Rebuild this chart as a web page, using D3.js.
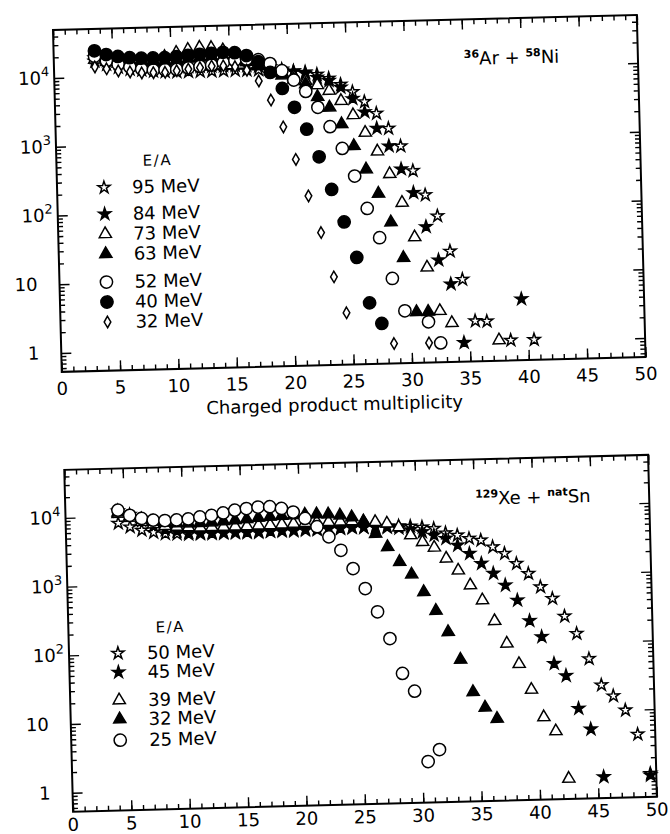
<!DOCTYPE html>
<html>
<head>
<meta charset="utf-8">
<script src="https://cdn.jsdelivr.net/npm/d3@7"></script>
<style>
  body { margin: 0; background: #fff; }
  text { font-family: "DejaVu Sans", sans-serif; fill: #000; }
</style>
</head>
<body>
<div id="chart-area"></div>
<script>
// Charged product multiplicity distributions, two reactions

// ---- data: [multiplicity, counts] ----
// 36Ar + 58Ni
let ar95 = [[3.5,17000],[4.5,15000],[5.5,13500],[6.5,12500],[7.5,12000],[8.5,11500],[9.5,11200],[10.5,11000],[11.5,11000],[12.5,11000],[13.5,11000],[14.5,11000],[15.5,11000],[16.5,11000],[17.5,11000],[18.5,10800],[19.5,10500],[20.5,10200],[21.5,9800],[22.5,9000],[23.5,7800],[24.5,6300],[25.5,4870],[26.5,3460],[27.5,2320],[28.5,1390],[29.5,760],[30.5,330],[31.5,145],[32.5,71],[33.5,21.6],[34.5,8.3],[35.5,2.05],[36.5,2.0],[38.5,1.04],[40.5,1.04]];
let ar84 = [[3.5,19000],[4.5,17000],[5.5,15500],[6.5,14500],[7.5,14000],[8.5,13500],[9.5,13000],[10.5,13000],[11.5,13000],[12.5,13000],[13.5,13000],[14.5,13000],[15.5,13000],[16.5,12800],[17.5,12500],[18.5,12000],[19.5,11000],[20.5,10200],[21.5,9400],[22.5,8150],[23.5,7240],[24.5,5720],[25.5,3870],[26.5,2460],[27.5,1410],[28.5,770],[29.5,352],[30.5,158],[31.5,50],[32.5,16.2],[33.5,7.2],[34.5,1.0],[39.5,4.1]];
let ar73 = [[3.5,18000],[4.5,16500],[5.5,15500],[6.5,15000],[7.5,15500],[8.5,16500],[9.5,18500],[10.5,21000],[11.5,23000],[12.5,24500],[13.5,24000],[14.5,22000],[15.5,19000],[16.5,16000],[17.5,13500],[18.5,11500],[19.5,9800],[20.5,8500],[21.5,7300],[22.5,6300],[23.5,5160],[24.5,3640],[25.5,2240],[26.5,1230],[27.5,650],[28.5,302],[29.5,114],[30.5,35.6],[31.5,12.8],[32.5,2.95],[33.5,1.95],[37.5,1.05]];
let ar63 = [[3.5,21000],[4.5,19000],[5.5,17500],[6.5,16500],[7.5,16000],[8.5,16000],[9.5,16000],[10.5,16500],[11.5,17000],[12.5,17500],[13.5,18000],[14.5,17500],[15.5,16500],[16.5,14500],[17.5,12500],[18.5,10500],[19.5,9000],[20.5,7800],[21.5,6600],[22.5,4250],[23.5,2950],[24.5,1670],[25.5,795],[26.5,360],[27.5,158],[28.5,60],[29.5,18],[30.5,2.9],[31.5,2.9]];
let ar52 = [[3.5,20000],[4.5,17000],[5.5,15000],[6.5,13500],[7.5,12500],[8.5,12000],[9.5,12000],[10.5,12000],[11.5,12500],[12.5,13000],[13.5,13500],[14.5,14500],[15.5,15500],[16.5,16000],[17.5,15500],[18.5,13500],[19.5,10500],[20.5,7600],[21.5,5150],[22.5,2990],[23.5,1550],[24.5,740],[25.5,290],[26.5,97],[27.5,36],[28.5,9.1],[29.5,3.05],[31.5,2.07],[32.5,1.01]];
let ar40 = [[3.5,24000],[4.5,21000],[5.5,19500],[6.5,18500],[7.5,18000],[8.5,18000],[9.5,18000],[10.5,18500],[11.5,19000],[12.5,19500],[13.5,20000],[14.5,20500],[15.5,20000],[16.5,18000],[17.5,14500],[18.5,10000],[19.5,5800],[20.5,3050],[21.5,1450],[22.5,570],[23.5,189],[24.5,63],[25.5,19],[26.5,4.1],[27.5,2.04]];
let ar32 = [[3.5,14000],[4.5,13000],[5.5,12000],[6.5,11500],[7.5,11000],[8.5,11000],[9.5,11000],[10.5,11500],[11.5,12000],[12.5,12500],[13.5,13000],[14.5,13000],[15.5,12500],[16.5,11000],[17.5,7600],[18.5,3970],[19.5,1600],[20.5,533],[21.5,155],[22.5,45],[23.5,10.1],[24.5,3.0],[28.5,1.03],[31.5,1.02]];

// 129Xe + natSn
let xe50 = [[4.5,8000],[5.5,7000],[6.5,6200],[7.5,5700],[8.5,5400],[9.5,5300],[10.5,5200],[11.5,5200],[12.5,5200],[13.5,5200],[14.5,5200],[15.5,5200],[16.5,5200],[17.5,5300],[18.5,5300],[19.5,5300],[20.5,5400],[21.5,5400],[22.5,5500],[23.5,5500],[24.5,5600],[25.5,5600],[26.5,5700],[27.5,5700],[28.5,5700],[29.5,5600],[30.5,5400],[31.5,5090],[32.5,4360],[33.5,4000],[34.5,3540],[35.5,3310],[36.5,2620],[37.5,2080],[38.5,1470],[39.5,1040],[40.5,660],[41.5,442],[42.5,242],[43.5,134],[44.5,57],[45.5,23.4],[46.5,16.1],[47.5,9.9],[48.5,4.36],[49.5,1.16]];
let xe45 = [[4.5,12000],[5.5,10500],[6.5,8500],[7.5,7000],[8.5,6200],[9.5,5800],[10.5,5500],[11.5,5400],[12.5,5400],[13.5,5400],[14.5,5400],[15.5,5400],[16.5,5400],[17.5,5400],[18.5,5500],[19.5,5500],[20.5,5600],[21.5,5600],[22.5,5700],[23.5,5700],[24.5,5700],[25.5,5600],[26.5,5600],[27.5,5500],[28.5,5300],[29.5,5000],[30.5,4600],[31.5,4080],[32.5,3610],[33.5,2860],[34.5,2140],[35.5,1520],[36.5,1080],[37.5,720],[38.5,430],[39.5,214],[40.5,124],[41.5,50],[42.5,33],[43.5,10.9],[44.5,5.4],[45.5,1.08],[49.5,1.1]];
let xe39 = [[4.5,11000],[5.5,9500],[6.5,8200],[7.5,7500],[8.5,7000],[9.5,6800],[10.5,6600],[11.5,6500],[12.5,6500],[13.5,6500],[14.5,6500],[15.5,6500],[16.5,6600],[17.5,6600],[18.5,6700],[19.5,6800],[20.5,6900],[21.5,7000],[22.5,7000],[23.5,7000],[24.5,7000],[25.5,6900],[26.5,6700],[27.5,6300],[28.5,5500],[29.5,4170],[30.5,3290],[31.5,2700],[32.5,1850],[33.5,1230],[34.5,740],[35.5,444],[36.5,219],[37.5,102],[38.5,51],[39.5,21.3],[40.5,8.4],[41.5,5.2],[42.5,1.05]];
let xe32 = [[4.5,11500],[5.5,10000],[6.5,9000],[7.5,8200],[8.5,7800],[9.5,7600],[10.5,7500],[11.5,7500],[12.5,7600],[13.5,7800],[14.5,8000],[15.5,8200],[16.5,8500],[17.5,8700],[18.5,8900],[19.5,9000],[20.5,9100],[21.5,9100],[22.5,9000],[23.5,8600],[24.5,8000],[25.5,6800],[26.5,4500],[27.5,2860],[28.5,1720],[29.5,1120],[30.5,615],[31.5,325],[32.5,158],[33.5,62],[34.5,20.7],[35.5,12.2],[36.5,8.3]];
let xe25 = [[4.5,12400],[5.5,10300],[6.5,9200],[7.5,8600],[8.5,8400],[9.5,8500],[10.5,8700],[11.5,9200],[12.5,9600],[13.5,10300],[14.5,11200],[15.5,11700],[16.5,12200],[17.5,12200],[18.5,11400],[19.5,10000],[20.5,8000],[21.5,6000],[22.5,4230],[23.5,2670],[24.5,1430],[25.5,726],[26.5,330],[27.5,133],[28.5,41],[29.5,22.4],[30.5,2.1],[31.5,3.1]];

// labels / ticks
let arLabels = ["95 MeV", "84 MeV", "73 MeV", "63 MeV", "52 MeV", "40 MeV", "32 MeV"];
let xeLabels = ["50 MeV", "45 MeV", "39 MeV", "32 MeV", "25 MeV"];
let xTicks = [0, 5, 10, 15, 20, 25, 30, 35, 40, 45, 50];
let yDecades = [1, 10, 100, 1000, 10000];
let arTitle = [["36", true], ["Ar + ", false], ["58", true], ["Ni", false]];
let xeTitle = [["129", true], ["Xe + ", false], ["nat", true], ["Sn", false]];
let xLabel = "Charged product multiplicity";

// ---- layout ----
let W = 670, H = 834;
let pw = 584, ph = 342;             // panel size
let px = 53, py1 = 30, py2 = 470;   // panel origins
let tilt = -1.47;                   // the scanned page is a bit rotated

let svg = d3.select("#chart-area")
    .append("svg")
    .attr("width", W)
    .attr("height", H);

svg.append("rect").attr("width", W).attr("height", H).attr("fill", "#fff");

let root = svg.append("g")
    .attr("transform", "rotate(" + tilt + "," + px + "," + py1 + ")");

let x = d3.scaleLinear().domain([0, 50]).range([0, pw]);
let y = d3.scaleLog().domain([0.53, 50000]).range([ph, 0]);

// minor log ticks
let yMinor = [];
[0.1, 1, 10, 100, 1000, 10000].forEach(function(d) {
  d3.range(2, 10).forEach(function(k) {
    let v = k * d;
    if (v > 0.55 && v < 48000) yMinor.push(v);
  });
});

let shapes = {
  star: [d3.symbolStar, 46],
  triangle: [d3.symbolTriangle, 64],
  circle: [d3.symbolCircle, 118],
  diamond: [d3.symbolDiamond, 38]
};

function marker(sel, shape, filled) {
  sel.attr("d", d3.symbol().type(shapes[shape][0]).size(shapes[shape][1]))
     .attr("fill", filled ? "#000" : "#fff")
     .attr("stroke", "#000")
     .attr("stroke-width", 1.5);
}

function drawPanel(top, series, title, legend, labelY) {
  let g = root.append("g").attr("transform", "translate(" + px + "," + top + ")");

  // axes, ticks pointing inward
  function axis(gen, tr, vals, size) {
    let a = g.append("g")
      .attr("transform", tr)
      .call(gen.tickValues(vals).tickSize(size).tickSizeOuter(0).tickFormat(""));
    a.select(".domain").remove();
    a.selectAll("line").attr("stroke", "#000").attr("stroke-width", 1.4);
    return a;
  }
  let xMinor = d3.range(0, 51);
  axis(d3.axisBottom(x), "translate(0," + ph + ")", xMinor, -5);
  axis(d3.axisBottom(x), "translate(0," + ph + ")", xTicks, -10);
  axis(d3.axisTop(x), "translate(0,0)", xMinor, -5);
  axis(d3.axisTop(x), "translate(0,0)", xTicks, -10);
  axis(d3.axisLeft(y), "translate(0,0)", yMinor, -5);
  axis(d3.axisLeft(y), "translate(0,0)", yDecades, -10);
  axis(d3.axisRight(y), "translate(" + pw + ",0)", yMinor, -5);
  axis(d3.axisRight(y), "translate(" + pw + ",0)", yDecades, -10);

  g.append("rect")
    .attr("width", pw).attr("height", ph)
    .attr("fill", "none").attr("stroke", "#000").attr("stroke-width", 2);

  // x tick labels
  g.selectAll(".xlab").data(xTicks).enter()
    .append("text")
      .attr("class", "xlab")
      .attr("x", function(d) { return x(d); })
      .attr("y", ph + labelY)
      .attr("text-anchor", "middle")
      .attr("font-size", 18)
      .text(function(d) { return d; });

  // y tick labels 1, 10, 10^2 ...
  g.selectAll(".ylab").data(yDecades).enter()
    .append("text")
      .attr("class", "ylab")
      .attr("font-size", 18)
      .attr("text-anchor", "end")
      .attr("x", function(d) { return d < 100 ? -22 : -5; })
      .attr("y", function(d) { return y(d) + 6; })
      .each(function(d) {
        let t = d3.select(this);
        if (d < 100) { t.text(d); return; }
        t.append("tspan").text("10");
        t.append("tspan").text(Math.round(Math.log10(d)))
          .attr("font-size", 13).attr("dy", -8);
      });

  // data points
  series.forEach(function(s) {
    g.append("g").selectAll("path")
      .data(s.data)
      .enter()
      .append("path")
        .attr("transform", function(d) { return "translate(" + x(d[0]) + "," + y(d[1]) + ")"; })
        .call(marker, s.shape, s.filled);
  });

  // reaction label
  let t = g.append("text")
    .attr("x", 410)
    .attr("y", 45.5)
    .attr("font-size", 18);
  title.forEach(function(p) {
    t.append("tspan")
      .text(p[0])
      .attr("font-size", p[1] ? 11 : 18)
      .attr("font-weight", p[1] ? "bold" : "normal")
      .attr("dy", p[1] ? -7 : 7);
  });

  // legend
  g.append("text")
    .attr("x", legend.ea[0]).attr("y", legend.ea[1])
    .attr("text-anchor", "middle")
    .attr("font-size", 15)
    .attr("letter-spacing", 1.5)
    .text("E/A");

  series.forEach(function(s, i) {
    let ry = legend.rows[i];
    g.append("path")
      .attr("transform", "translate(" + legend.sx + "," + ry + ")")
      .call(marker, s.shape, s.filled);
    g.append("text")
      .attr("x", legend.tx)
      .attr("y", ry + 6.5)
      .attr("font-size", 18)
      .text(s.label);
  });

  return g;
}

let arSeries = [
  {data: ar95, shape: "star", filled: false},
  {data: ar84, shape: "star", filled: true},
  {data: ar73, shape: "triangle", filled: false},
  {data: ar63, shape: "triangle", filled: true},
  {data: ar52, shape: "circle", filled: false},
  {data: ar40, shape: "circle", filled: true},
  {data: ar32, shape: "diamond", filled: false}
];
arSeries.forEach(function(s, i) { s.label = arLabels[i]; });

let xeSeries = [
  {data: xe50, shape: "star", filled: false},
  {data: xe45, shape: "star", filled: true},
  {data: xe39, shape: "triangle", filled: false},
  {data: xe32, shape: "triangle", filled: true},
  {data: xe25, shape: "circle", filled: false}
];
xeSeries.forEach(function(s, i) { s.label = xeLabels[i]; });

drawPanel(py1, arSeries, arTitle,
  {ea: [101, 138], sx: 47, tx: 75, rows: [158.8, 185.3, 205.3, 225.3, 253.3, 273.3, 293.3]}, 23);
// the lower panel's tick labels sit right at the page edge; keep them inside
drawPanel(py2, xeSeries, xeTitle,
  {ea: [102, 165], sx: 49, tx: 78, rows: [184.7, 203.7, 231.7, 250.7, 271.7]}, 19);

// x axis title (only under the upper panel)
root.append("text")
  .attr("x", px + 272)
  .attr("y", py1 + ph + 46)
  .attr("text-anchor", "middle")
  .attr("font-size", 18)
  .text(xLabel);
</script>
</body>
</html>
